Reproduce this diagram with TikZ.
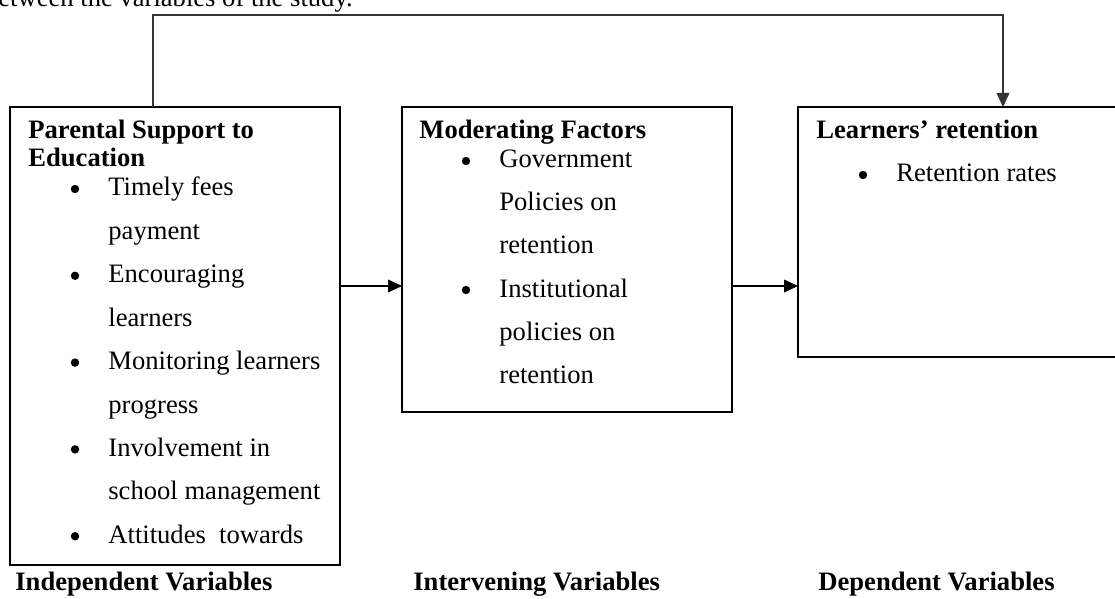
\documentclass[tikz,border=0pt]{standalone}
\usepackage{fontspec}
\setmainfont{Liberation Serif}
\usetikzlibrary{arrows.meta}

\tikzset{
  box/.style={draw, line width=0.6pt, inner sep=0pt, outer sep=0pt, anchor=north west},
  txt/.style={anchor=base west, inner sep=0pt, font=\fontsize{13.3pt}{15pt}\selectfont},
  head/.style={anchor=base west, inner sep=0pt, font=\fontsize{13.3pt}{15pt}\selectfont\bfseries},
  dot/.style={circle, fill, inner sep=0pt, minimum size=4.2pt},
}

\begin{document}
\begin{tikzpicture}[x=0.5pt,y=-0.5pt,>={Triangle[length=7pt,width=6.4pt]}]
\useasboundingbox (0,0) rectangle (1115,599);
\clip (0,0) rectangle (1115,599);

% running text cut off above the figure
\node[txt] (cut) at (-2,7) {etween the variables of the study.};

% boxes
\node[box, minimum width=165pt, minimum height=229pt] (ind) at (10,107) {};
\node[box, minimum width=165pt, minimum height=152.5pt] (mod) at (402,107) {};
\node[box, minimum width=170pt, minimum height=125pt] (dep) at (798,107) {};

% independent box
\node[head] (indh1) at (28,139) {Parental Support to};
\node[head] (indh2) at (28,167) {Education};
\foreach \line [count=\i] in {Timely fees, payment, Encouraging, learners, Monitoring learners, progress, Involvement in, school management, Attitudes\ \ towards}
  \node[txt] (ind\i) at (108,{196+43.4*(\i-1)}) {\line};
\foreach \i in {1,3,5,7,9}
  \node[dot] (indb\i) at (75,{189+43.4*(\i-1)}) {};

% moderating box
\node[head] (modh) at (419,139) {Moderating Factors};
\foreach \line [count=\i] in {Government, Policies on, retention, Institutional, policies on, retention}
  \node[txt] (mod\i) at (499,{168+43*(\i-1)}) {\line};
\foreach \i in {1,4}
  \node[dot] (modb\i) at (466,{161+43*(\i-1)}) {};

% dependent box
\node[head] (deph) at (816,139) {Learners’ retention};
\node[dot] (depb) at (863,175) {};
\node[txt] (dep1) at (896,182) {Retention rates};

% labels under the boxes
\node[head] (indl) at (15,590) {Independent Variables};
\node[head] (modl) at (413,590) {Intervening Variables};
\node[head] (depl) at (818,590) {Dependent Variables};

% connectors
\coordinate (row) at (0,286);
\coordinate (loopL) at (153,15);
\coordinate (loopR) at (1003,15);
\draw[line width=0.6pt,->] (ind.east |- row) -- (mod.west |- row);
\draw[line width=0.6pt,->] (mod.east |- row) -- (dep.west |- row);
\draw[line width=0.6pt,black!80,->] (ind.north -| loopL) -- (loopL) -- (loopR) -- (dep.north -| loopR);

\end{tikzpicture}
\end{document}
